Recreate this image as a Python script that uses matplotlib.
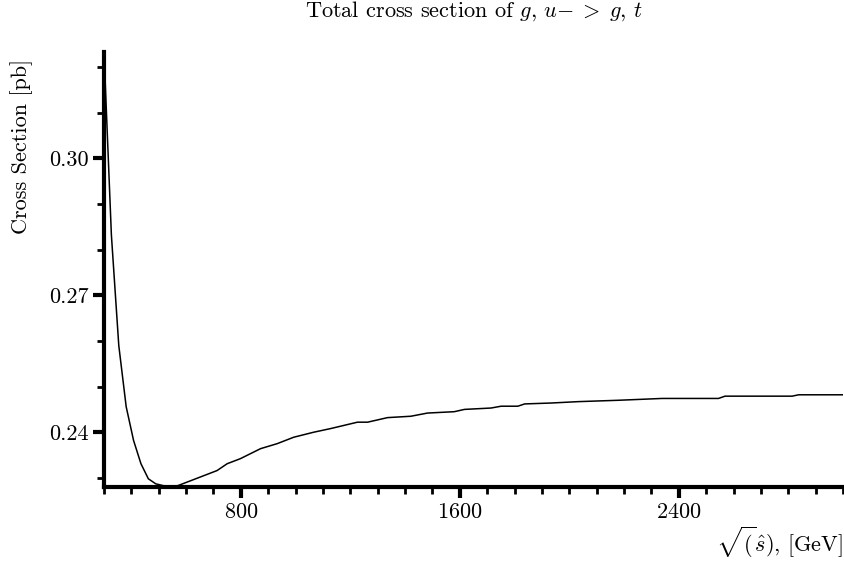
import numpy as np
import matplotlib
matplotlib.use("Agg")
import matplotlib.pyplot as plt
from matplotlib.ticker import MultipleLocator, FormatStrFormatter

# Values
sqrt_s = [300, 327, 354, 381, 408, 435, 462, 489, 516, 543, 570,
          713, 750, 798, 872, 933, 993, 1066, 1128, 1226, 1263, 1336,
          1421, 1482, 1580, 1617, 1714, 1751, 1812, 1837, 1934, 2032,
          2179, 2339, 2545, 2569, 2814, 2838, 3000]
xsec = [0.3233, 0.2832, 0.2590, 0.2456, 0.2382, 0.2331, 0.2298, 0.2287,
        0.2283, 0.2280, 0.2283,
        0.2316, 0.2331, 0.2342, 0.2364, 0.2375, 0.2389, 0.2400, 0.2408,
        0.2422, 0.2422, 0.2432, 0.2435, 0.2442, 0.2445, 0.2450, 0.2453,
        0.2457, 0.2457, 0.2462, 0.2464, 0.2467, 0.2470, 0.2474, 0.2474,
        0.2479, 0.2479, 0.2482, 0.2482]

plt.rcParams['font.family'] = ['cmr10', 'DejaVu Serif']
plt.rcParams['mathtext.fontset'] = 'cm'
plt.rcParams['axes.formatter.use_mathtext'] = True
plt.rcParams['font.size'] = 16

fig = plt.figure(figsize=(8.44, 5.71), dpi=100)
ax = fig.add_axes([104/844, 84/571, 739/844, 435/571])

ax.plot(sqrt_s, xsec, color='black', linewidth=1.1)
ax.margins(0)

ax.spines['top'].set_visible(False)
ax.spines['right'].set_visible(False)
ax.spines['left'].set_linewidth(3)
ax.spines['bottom'].set_linewidth(3)

ax.xaxis.set_major_locator(MultipleLocator(800))
ax.xaxis.set_minor_locator(MultipleLocator(100))
ax.yaxis.set_major_locator(MultipleLocator(0.03))
ax.yaxis.set_minor_locator(MultipleLocator(0.01))
ax.yaxis.set_major_formatter(FormatStrFormatter('%.2f'))
ax.tick_params(which='major', length=8, width=3, pad=3)
ax.tick_params(which='minor', length=5, width=2)

ax.set_title(r'Total cross section of $g,\,u{-}\;>\;g,\,t$', fontsize=16, pad=25.5)
ax.set_xlabel(r'$\sqrt{(}\hat{s})$, [GeV]', loc='right', labelpad=2)
ax.set_ylabel('Cross Section [pb]')
ax.yaxis.set_label_coords(-0.096, 0.783)
ax.yaxis.label.set_horizontalalignment('center')

fig.savefig('out.png', dpi=100)
